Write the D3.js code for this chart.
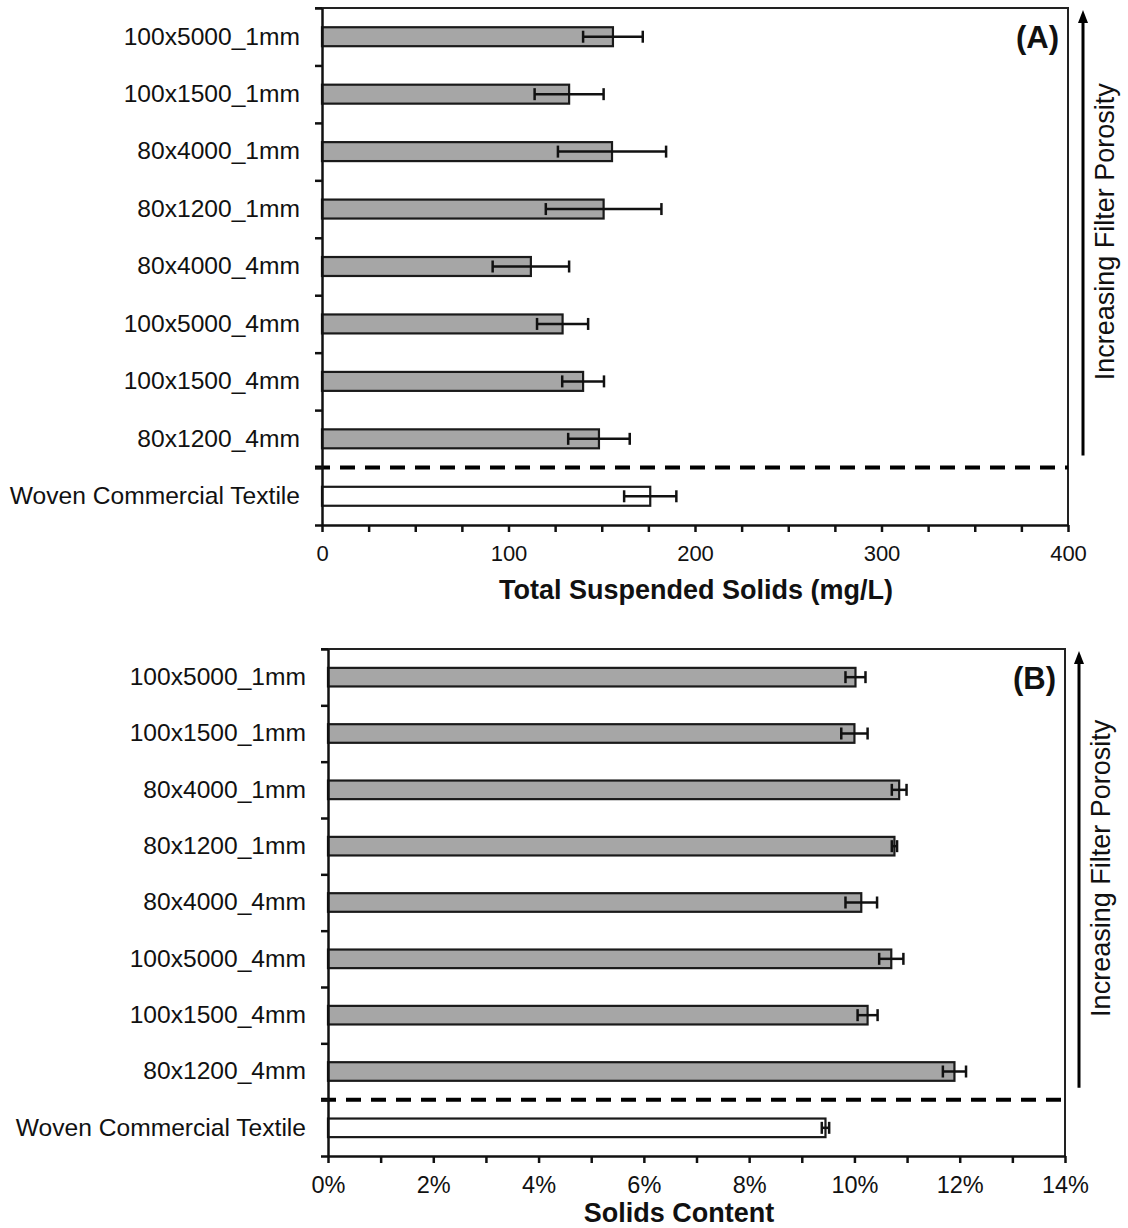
<!DOCTYPE html>
<html>
<head>
<meta charset="utf-8">
<script src="https://cdn.jsdelivr.net/npm/d3@7"></script>
<style>
  body { margin: 0; background: #fff; }
  svg text { font-family: "Liberation Sans", Arial, sans-serif; fill: #111; }
</style>
</head>
<body>
<div class="figDiv"></div>
<script>
// categories, top to bottom
var categories = ["100x5000_1mm", "100x1500_1mm", "80x4000_1mm", "80x1200_1mm",
  "80x4000_4mm", "100x5000_4mm", "100x1500_4mm", "80x1200_4mm", "Woven Commercial Textile"];

// panel A: total suspended solids (mg/L), mean and error
var tssMean = [156, 132.5, 155.5, 151, 112, 129, 140, 148.5, 176];
var tssErr  = [16, 18.5, 29, 31, 20.5, 13.7, 11.2, 16.5, 14];
var tssTicks = [0, 100, 200, 300, 400];

// panel B: solids content (fraction), mean and error
var solidsMean = [0.1002, 0.1000, 0.1085, 0.1076, 0.1013, 0.1070, 0.1025, 0.1190, 0.0945];
var solidsErr  = [0.0019, 0.0025, 0.0014, 0.0005, 0.0030, 0.0023, 0.0019, 0.0022, 0.0007];
var solidsTicks = [0, 0.02, 0.04, 0.06, 0.08, 0.10, 0.12, 0.14];

var svg = d3.select('div.figDiv').append('svg')
  .attr('width', 1128).attr('height', 1228);

var fontFam = '"Liberation Sans", Arial, sans-serif';

function drawPanel(p) {
  var g = svg.append('g');
  var x = d3.scaleLinear().domain(p.domain).range([p.left, p.right]);
  var y = d3.scaleBand().domain(categories).range([p.top, p.bottom])
    .paddingInner(0.67).paddingOuter(0.335);
  var yIdx = d3.scaleLinear().domain([0, categories.length]).range([p.top, p.bottom]);

  // frame (top + right)
  g.append('path')
    .attr('d', 'M' + (p.left - 7) + ',' + p.top + 'H' + p.right + 'V' + p.bottom)
    .attr('fill', 'none').attr('stroke', '#222').attr('stroke-width', 2);

  // bars
  g.selectAll('rect.bar').data(categories).enter().append('rect')
    .attr('class', 'bar')
    .attr('x', x(0))
    .attr('y', function(d) { return y(d); })
    .attr('width', function(d, i) { return x(p.mean[i]) - x(0); })
    .attr('height', y.bandwidth())
    .attr('fill', function(d, i) { return i === categories.length - 1 ? '#fff' : '#a6a6a6'; })
    .attr('stroke', '#1a1a1a').attr('stroke-width', 2.2);

  // error bars
  var eb = g.selectAll('g.err').data(categories).enter().append('g').attr('class', 'err')
    .attr('stroke', '#111').attr('stroke-width', 2.5);
  var capH = 6;
  eb.append('line')
    .attr('x1', function(d, i) { return x(p.mean[i] - p.err[i]); })
    .attr('x2', function(d, i) { return x(p.mean[i] + p.err[i]); })
    .attr('y1', function(d) { return y(d) + y.bandwidth() / 2; })
    .attr('y2', function(d) { return y(d) + y.bandwidth() / 2; });
  [-1, 1].forEach(function(s) {
    eb.append('line')
      .attr('x1', function(d, i) { return x(p.mean[i] + s * p.err[i]); })
      .attr('x2', function(d, i) { return x(p.mean[i] + s * p.err[i]); })
      .attr('y1', function(d) { return y(d) + y.bandwidth() / 2 - capH; })
      .attr('y2', function(d) { return y(d) + y.bandwidth() / 2 + capH; });
  });

  // dashed separator above the commercial textile
  g.append('line')
    .attr('x1', p.left - 7).attr('x2', p.right)
    .attr('y1', yIdx(categories.length - 1)).attr('y2', yIdx(categories.length - 1))
    .attr('stroke', '#000').attr('stroke-width', 4)
    .attr('stroke-dasharray', '15,10');

  // left axis: boundary ticks
  g.append('g').attr('transform', 'translate(' + p.left + ',0)')
    .call(d3.axisLeft(yIdx).tickValues(d3.range(categories.length + 1))
      .tickFormat('').tickSize(7).tickSizeOuter(0))
    .call(function(a) {
      a.select('.domain').attr('stroke', '#111').attr('stroke-width', 2.5);
      a.selectAll('.tick line').attr('stroke', '#111').attr('stroke-width', 2.5);
    });

  // category labels
  g.append('g').attr('transform', 'translate(' + p.left + ',0)')
    .call(d3.axisLeft(y).tickSize(0).tickPadding(22))
    .call(function(a) {
      a.select('.domain').remove();
      a.selectAll('text').attr('font-size', 24.6)
        .style('font-family', fontFam).attr('fill', '#111');
    });

  // bottom axis
  var xa = g.append('g').attr('transform', 'translate(0,' + p.bottom + ')')
    .call(d3.axisBottom(x).tickValues(p.minor).tickSize(7).tickSizeOuter(0).tickPadding(13)
      .tickFormat(function(d) {
        return p.ticks.some(function(t) { return Math.abs(t - d) < 1e-9; }) ? p.fmt(d) : '';
      }));
  xa.select('.domain').attr('stroke', '#111').attr('stroke-width', 2.5);
  xa.selectAll('.tick line').attr('stroke', '#111').attr('stroke-width', 2.5);
  xa.selectAll('text').attr('font-size', p.tickFont)
    .style('font-family', fontFam).attr('fill', '#111');

  // axis title
  g.append('text').attr('x', p.titleX).attr('y', p.titleY)
    .attr('text-anchor', 'middle').attr('font-size', 27).attr('font-weight', 'bold')
    .text(p.title);

  // panel letter
  g.append('text').attr('x', p.right - 9).attr('y', p.top + 40)
    .attr('text-anchor', 'end').attr('font-size', 31).attr('font-weight', 'bold')
    .text(p.letter);

  // porosity arrow + label
  var yStart = yIdx(categories.length - 1) - 12;
  var yTip = p.top + 2;
  g.append('line')
    .attr('x1', p.arrowX).attr('x2', p.arrowX)
    .attr('y1', yStart).attr('y2', yTip + 10)
    .attr('stroke', '#000').attr('stroke-width', 3);
  g.append('path')
    .attr('d', 'M' + p.arrowX + ',' + yTip + 'L' + (p.arrowX - 5) + ',' + (yTip + 13) +
      'L' + (p.arrowX + 5) + ',' + (yTip + 13) + 'Z')
    .attr('fill', '#000');
  var midY = (yStart + p.top) / 2;
  g.append('text')
    .attr('transform', 'translate(' + (p.arrowX + 31) + ',' + midY + ') rotate(-90)')
    .attr('text-anchor', 'middle').attr('font-size', 27)
    .text('Increasing Filter Porosity');
}

drawPanel({
  top: 8, bottom: 525, left: 322, right: 1068,
  domain: [0, 400], mean: tssMean, err: tssErr,
  minor: d3.range(0, 401, 25), ticks: tssTicks, tickFont: 22,
  fmt: function(d) { return d3.format('d')(d); },
  title: 'Total Suspended Solids (mg/L)', titleX: 696, titleY: 599,
  letter: '(A)', arrowX: 1083
});

drawPanel({
  top: 649, bottom: 1156, left: 328, right: 1065,
  domain: [0, 0.14], mean: solidsMean, err: solidsErr,
  minor: d3.range(0, 15).map(function(i) { return i / 100; }), ticks: solidsTicks, tickFont: 23.5,
  fmt: function(d) { return d3.format('.0%')(d); },
  title: 'Solids Content', titleX: 679, titleY: 1222,
  letter: '(B)', arrowX: 1079
});
</script>
</body>
</html>
